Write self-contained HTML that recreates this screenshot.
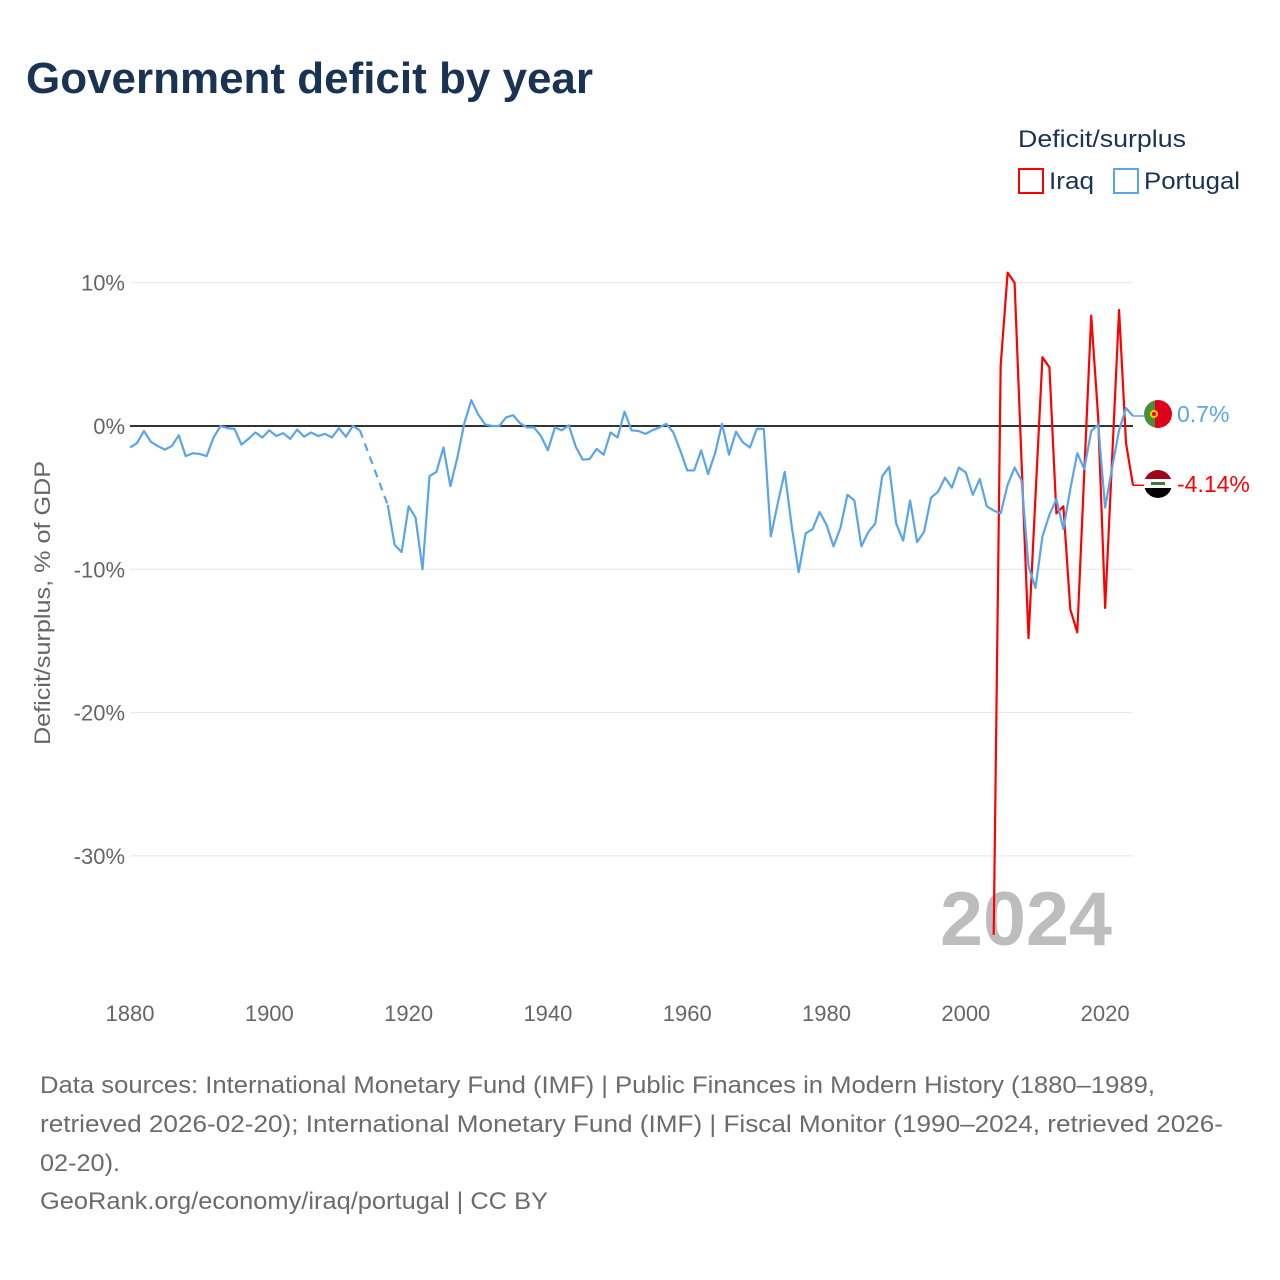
<!DOCTYPE html>
<html><head><meta charset="utf-8"><style>
html,body{margin:0;padding:0;background:#fff;}
svg{display:block;font-family:"Liberation Sans",sans-serif;}
</style></head><body>
<svg id="chart" width="1280" height="1280" viewBox="0 0 1280 1280" xmlns="http://www.w3.org/2000/svg">
<rect width="1280" height="1280" fill="#fff"/>
<text x="26" y="93" font-size="44" font-weight="bold" fill="#1a3352" textLength="567" lengthAdjust="spacingAndGlyphs">Government deficit by year</text>
<text x="1018" y="147" font-size="24" fill="#1a3352" textLength="168" lengthAdjust="spacingAndGlyphs">Deficit/surplus</text>
<g>
<rect x="1019" y="169" width="24" height="24" fill="none" stroke="#f00" stroke-width="2"/>
<text x="1049" y="189" font-size="24" fill="#1a3352" textLength="45" lengthAdjust="spacingAndGlyphs">Iraq</text></g>
<g>
<rect x="1114" y="169" width="24" height="24" fill="none" stroke="#5aa5ea" stroke-width="2"/>
<text x="1144" y="189" font-size="24" fill="#1a3352" textLength="96" lengthAdjust="spacingAndGlyphs">Portugal</text></g>
<g id="grid"></g>
<g id="yticks"></g>
<g id="xticks"></g>
<text transform="translate(50,603) rotate(-90)" text-anchor="middle" font-size="22" fill="#666" textLength="284" lengthAdjust="spacingAndGlyphs">Deficit/surplus, % of GDP</text>
<text x="1112" y="945" text-anchor="end" font-size="76" font-weight="bold" fill="#bdbdbd" textLength="172" lengthAdjust="spacingAndGlyphs">2024</text>
<g id="series"></g>
<g>
<clipPath id="cp1"><circle cx="1158" cy="414" r="14"/></clipPath>
<g clip-path="url(#cp1)"><rect x="1144" y="400" width="11" height="28" fill="#4a8f3a"/><rect x="1155" y="400" width="17" height="28" fill="#e0001b"/><circle cx="1154" cy="414" r="4" fill="#f5d000"/><circle cx="1154" cy="414" r="2" fill="#e0001b"/></g></g>
<g>
<clipPath id="cp2"><circle cx="1158" cy="484" r="14"/></clipPath>
<g clip-path="url(#cp2)"><rect x="1144" y="470" width="28" height="10" fill="#a0061a"/><rect x="1144" y="479" width="28" height="10" fill="#fff"/><rect x="1144" y="488" width="28" height="10" fill="#000"/><rect x="1151" y="482" width="14" height="3" fill="#3a7a3a"/></g></g>
<text x="1177" y="422" font-size="23" fill="#5aa5ea">0.7%</text>
<text x="1177" y="492" font-size="23" fill="#f00">-4.14%</text>
<g font-size="24" fill="#6b6b6b">
<text x="40" y="1093" textLength="1115" lengthAdjust="spacingAndGlyphs">Data sources: International Monetary Fund (IMF) | Public Finances in Modern History (1880–1989,</text>
<text x="40" y="1132" textLength="1183" lengthAdjust="spacingAndGlyphs">retrieved 2026-02-20); International Monetary Fund (IMF) | Fiscal Monitor (1990–2024, retrieved 2026-</text>
<text x="40" y="1171" textLength="80" lengthAdjust="spacingAndGlyphs">02-20).</text>
<text x="40" y="1209" textLength="508" lengthAdjust="spacingAndGlyphs">GeoRank.org/economy/iraq/portugal | CC BY</text>
</g>
</svg>
<script>
const yTicks=[10,0,-10,-20,-30];
const xTicks=[1880,1900,1920,1940,1960,1980,2000,2020];
const portugalYears=[];for(let y=1880;y<=2024;y++)portugalYears.push(y);
const portugalValues=[-1.5,-1.2,-0.35,-1.1,-1.4,-1.65,-1.4,-0.65,-2.1,-1.9,-1.95,-2.1,-0.8,0,-0.15,-0.2,-1.3,-0.9,-0.45,-0.8,
-0.3,-0.7,-0.5,-0.9,-0.25,-0.75,-0.45,-0.7,-0.55,-0.8,-0.15,-0.75,0,-0.3,null,null,null,-5.5,-8.3,-8.8,
-5.6,-6.4,-10,-3.5,-3.2,-1.5,-4.2,-2.2,0.2,1.8,0.8,0.1,0,0,0.6,0.75,0.2,-0.1,-0.1,-0.7,
-1.7,-0.1,-0.3,0.05,-1.45,-2.35,-2.3,-1.6,-2.0,-0.45,-0.8,1.0,-0.3,-0.35,-0.55,-0.3,-0.1,0.15,-0.45,-1.7,
-3.1,-3.1,-1.7,-3.35,-1.9,0.15,-2.0,-0.4,-1.15,-1.5,-0.2,-0.2,-7.7,-5.4,-3.2,-7.0,-10.2,-7.5,-7.2,-6.0,
-6.9,-8.4,-7.1,-4.8,-5.2,-8.4,-7.4,-6.8,-3.5,-2.85,-6.8,-8.0,-5.2,-8.1,-7.4,-5.0,-4.6,-3.6,-4.3,-2.9,
-3.25,-4.8,-3.7,-5.6,-5.9,-6.1,-4.1,-2.9,-3.8,-9.8,-11.3,-7.7,-6.2,-5.1,-7.2,-4.4,-1.9,-3.0,-0.35,0.1,
-5.7,-2.9,-0.3,1.25,0.7];
const iraqYears=[2004,2005,2006,2007,2008,2009,2010,2011,2012,2013,2014,2015,2016,2017,2018,2019,2020,2021,2022,2023,2024];
const iraqValues=[-35.5,4.2,10.7,10.0,-2.5,-14.8,-4.9,4.8,4.1,-6.1,-5.6,-12.8,-14.4,-3.3,7.7,0.6,-12.7,-2.3,8.1,-1.2,-4.14];
const NS="http://www.w3.org/2000/svg";
const X0=130,X1=1133,Y1880=1880,Y2024=2024;
const xs=y=>X0+(y-Y1880)*(X1-X0)/(Y2024-Y1880);
const ys=v=>426-v*14.33;
function mk(tag,attrs,parent){const e=document.createElementNS(NS,tag);for(const k in attrs)e.setAttribute(k,attrs[k]);parent.appendChild(e);return e;}
const grid=document.getElementById('grid'),yt=document.getElementById('yticks'),xt=document.getElementById('xticks'),ser=document.getElementById('series');
yTicks.forEach(v=>{
 if(v!==0){const l=mk('line',{x1:X0,x2:X1,y1:ys(v),y2:ys(v),stroke:'#e6e6e6','stroke-width':1},grid);
 
 }
 const t=mk('text',{x:125,y:ys(v)+8,'text-anchor':'end','font-size':22,fill:'#666'},yt);
 t.textContent=v+'%';
 
 
});
xTicks.forEach(v=>{
 const t=mk('text',{x:xs(v),y:1021,'text-anchor':'middle','font-size':22,fill:'#666'},xt);
 t.textContent=v;
 
 
});
const zl=mk('line',{x1:X0,x2:X1,y1:ys(0),y2:ys(0),stroke:'#333','stroke-width':2},grid);


function drawSeries(years,vals,color,name){
 let segs=[],cur=[];
 years.forEach((y,i)=>{if(vals[i]==null){if(cur.length)segs.push(cur);cur=[];}else cur.push([xs(y),ys(vals[i])]);});
 if(cur.length)segs.push(cur);
 segs.forEach((s,i)=>{
  const p=mk('polyline',{points:s.map(q=>q.join(',')).join(' '),fill:'none',stroke:color,'stroke-width':2.2,'stroke-linejoin':'round'},ser);
  
  
  if(i<segs.length-1){const a=s[s.length-1],b=segs[i+1][0];
   const d=mk('line',{x1:a[0],y1:a[1],x2:b[0],y2:b[1],stroke:color,'stroke-width':2.2,'stroke-dasharray':'8,6'},ser);
   
   }
 });
 const last=vals[vals.length-1],lx=xs(years[years.length-1]),ly=ys(last);
 const c=mk('polyline',{points:`${lx},${ly} ${lx+8},${ly} 1144,${ly}`,fill:'none',stroke:color,'stroke-width':1.5},ser);
 
 
}
drawSeries(iraqYears,iraqValues,'#ff0000','iraq');
drawSeries(portugalYears,portugalValues,'#5aa5ea','portugal');
</script>
</body></html>
